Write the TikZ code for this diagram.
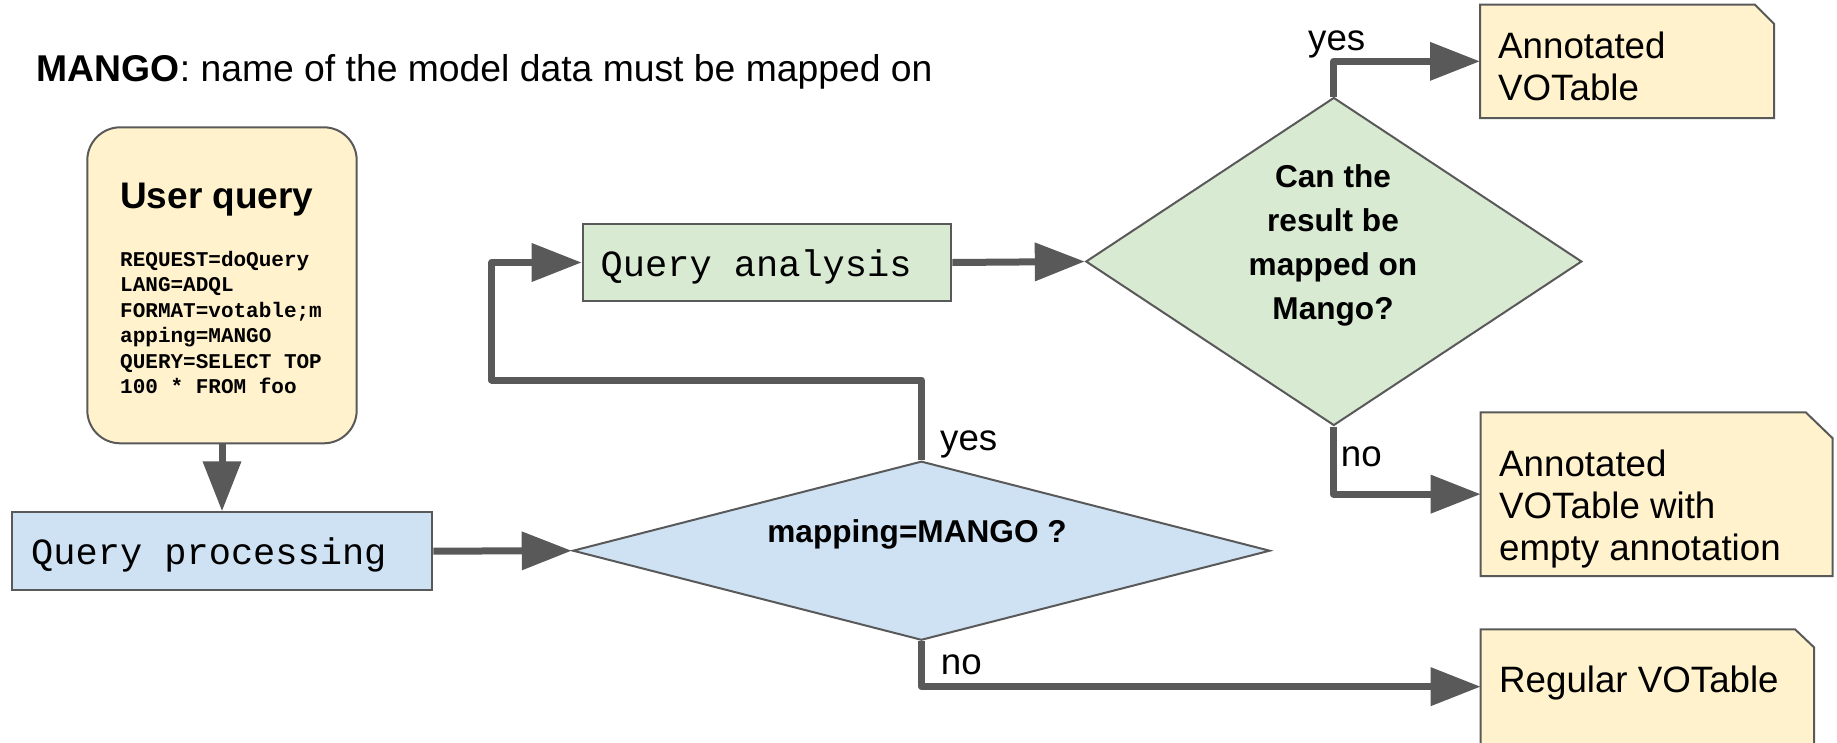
\documentclass[tikz,border=0pt]{standalone}
\usepackage{fontspec}
\setmainfont{Liberation Sans}
\newfontfamily\qmono{Liberation Mono}
\usetikzlibrary{arrows.meta,shapes.geometric}
\definecolor{lgray}{HTML}{595959}
\definecolor{yel}{HTML}{FFF2CC}
\definecolor{grn}{HTML}{D9EAD3}
\definecolor{blu}{HTML}{CFE2F3}
\newcommand{\mlines}[2]{\begin{tabular}[t]{@{}#1@{}}#2\end{tabular}}
\begin{document}
\begin{tikzpicture}[x=1pt,y=-1pt,
  conn/.style={draw=lgray, line width=7pt, line join=round, -{Triangle[length=50pt,width=37pt]}},
  outline/.style={draw=lgray, line width=2pt},
  shp/.style={outline, inner sep=0pt},
  txt/.style={font=\fontsize{36.7}{42}\selectfont, inner sep=0pt, anchor=base west},
  qtxt/.style={font=\qmono\fontsize{37}{42}\selectfont, inner sep=0pt, anchor=base west},
  codetxt/.style={font=\qmono\bfseries\fontsize{21}{25.5}\selectfont, inner sep=0pt, anchor=base west},
  btxt/.style={font=\bfseries\fontsize{31.6}{44}\selectfont, inner sep=0pt, anchor=base},
  votab/.style={rectangle, inner sep=0pt, outer sep=0pt}
]
\useasboundingbox (0,0) rectangle (1837,742);

% caption
\node[txt, font=\fontsize{37.3}{42}\selectfont] (cap) at (36.7,81.7) {\textbf{MANGO}: name of the model data must be mapped on};

% user query
\node[shp, rectangle, rounded corners=33pt, fill=yel, minimum width=269.4pt, minimum height=316pt] (uq) at (222,285.3) {};
\node[txt, font=\bfseries\fontsize{37}{42}\selectfont] (uqtitle) at (120,208.3) {User query};
\node[codetxt] (uqcode) at (120,266) {\mlines{l}{REQUEST=doQuery\\LANG=ADQL\\FORMAT=votable;m\\apping=MANGO\\QUERY=SELECT TOP\\100 * FROM foo}};

% query processing
\node[shp, rectangle, fill=blu, minimum width=420.6pt, minimum height=77.7pt] (qp) at (222,551.15) {};
\node[qtxt] (qpt) at (31,564.5) {Query processing};

% query analysis
\node[shp, rectangle, fill=grn, minimum width=368.6pt, minimum height=77pt] (qa) at (767,262.5) {};
\node[qtxt] (qat) at (600.5,276.7) {Query analysis};

% decision mapping
\node[shp, diamond, fill=blu, minimum width=697.3pt, minimum height=179pt] (dm) at (921.4,550.7) {};
\node[btxt] (dmt) at (917,542.3) {mapping=MANGO ?};

% decision green
\node[shp, diamond, fill=grn, minimum width=496pt, minimum height=328pt] (dg) at (1333.8,261.5) {};
\node[btxt] (dgt) at (1333,187.3) {\mlines{c}{Can the\\result be\\mapped on\\Mango?}};

% result boxes
\node[votab, minimum width=294pt, minimum height=113.3pt] (a1) at (1627,61.35) {};
\filldraw[outline, fill=yel] (a1.south west) -- (a1.north west) -- ([xshift=-19pt]a1.north east) -- ([yshift=-19pt]a1.north east) -- (a1.south east) -- cycle;
\node[txt] (a1t) at (1498,58.5) {\mlines{l}{Annotated\\VOTable}};

\node[votab, minimum width=352pt, minimum height=163.7pt] (a2) at (1656.7,494.15) {};
\filldraw[outline, fill=yel] (a2.south west) -- (a2.north west) -- ([xshift=-27pt]a2.north east) -- ([yshift=-26pt]a2.north east) -- (a2.south east) -- cycle;
\node[txt] (a2t) at (1499,476) {\mlines{l}{Annotated\\VOTable with\\empty annotation}};

\node[votab, minimum width=333.3pt, minimum height=114.7pt] (a3) at (1647.35,686.65) {};
\filldraw[outline, fill=yel] (a3.south west) -- (a3.north west) -- ([xshift=-19pt]a3.north east) -- ([yshift=-18pt]a3.north east) -- (a3.south east) -- cycle;
\node[txt] (a3t) at (1499,692.7) {Regular VOTable};

% connectors
\coordinate (loopL) at (491.7,380);
\draw[conn] (uq.south) -- (qp.north);
\draw[conn] (qp.east) -- (dm.west);
\draw[conn] (dm.north) |- (loopL) |- (qa.west);
\draw[conn] (qa.east) -- (dg.west);
\draw[conn] (dg.north) |- (a1.west);
\draw[conn] (dg.south) |- (a2.west);
\draw[conn] (dm.south) |- (a3.west);

% branch labels
\node[txt] (yes1) at (1308,50) {yes};
\node[txt] (yes2) at (940,450.7) {yes};
\node[txt] (no1) at (1340.7,466.7) {no};
\node[txt] (no2) at (940.7,674) {no};
\end{tikzpicture}
\end{document}
